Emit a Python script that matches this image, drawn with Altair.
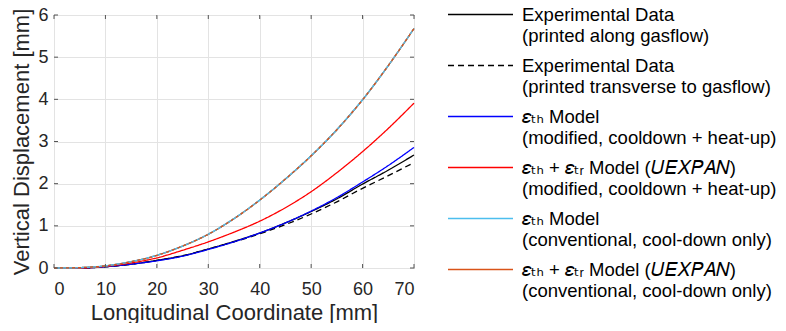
import altair as alt
import pandas as pd

x_mm = [0, 5, 10, 15, 20, 25, 30, 35, 40, 45, 50, 55, 60, 65, 70]
exp_along = [0, 0, 0.03, 0.09, 0.18, 0.29, 0.45, 0.63, 0.83, 1.07, 1.34, 1.64, 1.99, 2.32, 2.68]
exp_transverse = [0, 0, 0.03, 0.09, 0.18, 0.29, 0.45, 0.62, 0.81, 1.03, 1.28, 1.57, 1.89, 2.19, 2.50]
th_modified = [0, 0, 0.03, 0.09, 0.17, 0.28, 0.44, 0.62, 0.83, 1.07, 1.35, 1.67, 2.04, 2.43, 2.86]
thtr_modified = [0, 0, 0.04, 0.12, 0.24, 0.42, 0.62, 0.85, 1.11, 1.43, 1.81, 2.26, 2.76, 3.31, 3.91]
th_conventional = [0, 0.01, 0.05, 0.15, 0.30, 0.52, 0.80, 1.17, 1.61, 2.11, 2.66, 3.28, 3.99, 4.80, 5.68]
thtr_conventional = [0, 0.01, 0.05, 0.15, 0.30, 0.52, 0.80, 1.17, 1.61, 2.11, 2.66, 3.28, 3.99, 4.80, 5.68]

EPS_TH = "\U0001D700\u209C\u2095"
EPS_TR = "\U0001D700\u209C\u1D63"
UEXPAN = "\U0001D448\U0001D438\U0001D44B\U0001D443\U0001D434\U0001D441"
series_names = [
    "Experimental Data|(printed along gasflow)",
    "Experimental Data|(printed transverse to gasflow)",
    EPS_TH + " Model|(modified, cooldown + heat-up)",
    EPS_TH + " + " + EPS_TR + " Model (" + UEXPAN + ")|(modified, cooldown + heat-up)",
    EPS_TH + " Model|(conventional, cool-down only)",
    EPS_TH + " + " + EPS_TR + " Model (" + UEXPAN + ")|(conventional, cool-down only)",
]
series_values = [exp_along, exp_transverse, th_modified, thtr_modified, th_conventional, thtr_conventional]
series_colors = ["#000000", "#000000", "#0000ff", "#ff0000", "#4DBEEE", "#D95319"]
series_dash = [[1, 0], [6, 4], [1, 0], [1, 0], [1, 0], [1, 0]]

x_ticks = [0, 10, 20, 30, 40, 50, 60, 70]
y_ticks = [0, 1, 2, 3, 4, 5, 6]

rows = []
for name, vals in zip(series_names, series_values):
    for xv, yv in zip(x_mm, vals):
        rows.append({"series": name, "x": xv, "y": yv})
df = pd.DataFrame(rows)

FONT = "Liberation Sans, Arial, DejaVu Sans"
TXT = "#262626"
FRAME = "#555555"

xscale = alt.Scale(domain=[0, 70], nice=False, zero=False)
yscale = alt.Scale(domain=[0, 6], nice=False, zero=False)

leg = alt.Legend(
    title=None,
    orient="none",
    legendX=415.5,
    legendY=-11,
    padding=0,
    symbolType="M-3.25,-0.05L3.25,-0.05",
    symbolSize=400,
    symbolStrokeWidth=1.5,
    labelExpr="split(datum.label, '|')",
    labelFont=FONT,
    labelFontSize=18.5,
    labelColor="#000000",
    labelOffset=30.5,
    labelBaseline="middle",
    labelLimit=400,
    rowPadding=10,
)

base = alt.Chart(df)

lines = base.mark_line(strokeWidth=1.3, interpolate="monotone").encode(
    x=alt.X("x:Q", scale=xscale,
            axis=alt.Axis(values=x_ticks, title="Longitudinal Coordinate [mm]",
                          titleBaseline="alphabetic", titleY=51)),
    y=alt.Y("y:Q", scale=yscale,
            axis=alt.Axis(values=y_ticks, title="Vertical Displacement [mm]",
                          titleBaseline="alphabetic", titleX=-26)),
    color=alt.Color("series:N", scale=alt.Scale(domain=series_names, range=series_colors), legend=leg),
    strokeDash=alt.StrokeDash("series:N", scale=alt.Scale(domain=series_names, range=series_dash), legend=leg),
    detail="series:N",
)

cyan_overlay = alt.Chart(df[df["series"] == series_names[4]]).mark_line(
    strokeWidth=1.3, color="#4DBEEE", interpolate="monotone"
).encode(x=alt.X("x:Q", scale=xscale), y=alt.Y("y:Q", scale=yscale))

orange_overlay = alt.Chart(df[df["series"] == series_names[5]]).mark_line(
    strokeWidth=1.3, color="#D95319", strokeDash=[3, 3], interpolate="monotone"
).encode(x=alt.X("x:Q", scale=xscale), y=alt.Y("y:Q", scale=yscale))

tick_len_y = 6 * 4 / 253
tick_len_x = 70 * 4 / 360
xt = pd.DataFrame({"v": x_ticks})
yt = pd.DataFrame({"v": y_ticks})
tick_style = dict(color=FRAME, strokeWidth=1)
xt_bottom = alt.Chart(xt).mark_rule(**tick_style).encode(
    x=alt.X("v:Q", scale=xscale), y=alt.datum(0, scale=yscale), y2=alt.datum(tick_len_y))
xt_top = alt.Chart(xt).mark_rule(**tick_style).encode(
    x=alt.X("v:Q", scale=xscale), y=alt.datum(6, scale=yscale), y2=alt.datum(6 - tick_len_y))
yt_left = alt.Chart(yt).mark_rule(**tick_style).encode(
    y=alt.Y("v:Q", scale=yscale), x=alt.datum(0, scale=xscale), x2=alt.datum(tick_len_x))
yt_right = alt.Chart(yt).mark_rule(**tick_style).encode(
    y=alt.Y("v:Q", scale=yscale), x=alt.datum(70, scale=xscale), x2=alt.datum(70 - tick_len_x))

chart = alt.layer(lines, cyan_overlay, orange_overlay, xt_bottom, xt_top, yt_left, yt_right).properties(
    width=360,
    height=253,
    autosize=alt.AutoSizeParams(type="none"),
    padding={"left": 46, "top": 7, "right": 364, "bottom": 55},
).configure_view(
    stroke=FRAME, strokeWidth=1
).configure_axis(
    domain=False,
    ticks=False,
    grid=True,
    gridColor="#e3e3e3",
    gridWidth=1,
    labelFont=FONT,
    labelFontSize=18,
    labelColor=TXT,
    titleFont=FONT,
    titleFontSize=22,
    titleFontWeight="normal",
    titleColor=TXT,
).configure_axisX(
    labelPadding=12
).configure_axisY(
    labelPadding=6
)

chart.save("out.html", embed_options={"renderer": "svg", "actions": False})
